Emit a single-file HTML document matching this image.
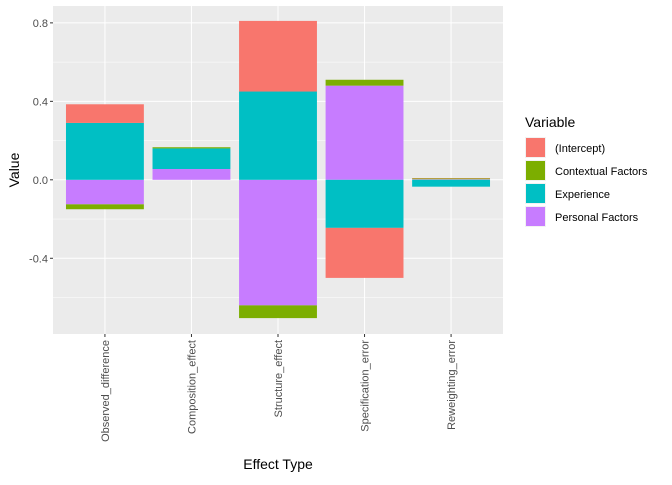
<!DOCTYPE html>
<html><head><meta charset="utf-8"><style>
body{margin:0;background:#fff;font-family:"Liberation Sans",Arial,sans-serif}
</style></head><body>
<svg id="c" width="672" height="480" xmlns="http://www.w3.org/2000/svg"></svg>
<script>
const categories=["Observed_difference","Composition_effect","Structure_effect","Specification_error","Reweighting_error"];
const variables=["(Intercept)","Contextual Factors","Experience","Personal Factors"];
const colors=["#F8766D","#7CAE00","#00BFC4","#C77CFF"];
const intercept=[0.095,0,0.36,-0.255,0.002];
const contextual=[-0.025,0.006,-0.065,0.03,0.004];
const experience=[0.29,0.105,0.45,-0.245,-0.035];
const personal=[-0.125,0.055,-0.64,0.48,0.003];
const yTicks=[-0.4,0.0,0.4,0.8];
const series=[intercept,contextual,experience,personal];

const svg=document.getElementById('c');
const NS="http://www.w3.org/2000/svg";
const L=53,R=503,T=6,B=334,yMin=-0.786,yMax=0.886;
const xs=i=>L+(i+1-0.4)*(R-L)/5.2;
const bw=0.9*(R-L)/5.2;
const ys=v=>T+(yMax-v)/(yMax-yMin)*(B-T);
function el(t,a,p){const e=document.createElementNS(NS,t);for(const k in a)e.setAttribute(k,a[k]);(p||svg).appendChild(e);return e;}
const bg=el('rect',{x:L,y:T,width:R-L,height:B-T,fill:'#EBEBEB'});


// minor grid
for(let i=0;i<yTicks.length-1;i++){const v=(yTicks[i]+yTicks[i+1])/2;el('line',{x1:L,x2:R,y1:ys(v),y2:ys(v),stroke:'#fff','stroke-width':0.5});}
[yMin+0.01, -0.6].forEach(v=>{});
el('line',{x1:L,x2:R,y1:ys(-0.6),y2:ys(-0.6),stroke:'#fff','stroke-width':0.5});
yTicks.forEach(v=>{
 el('line',{x1:L,x2:R,y1:ys(v),y2:ys(v),stroke:'#fff','stroke-width':1});
 el('line',{x1:L-3,x2:L,y1:ys(v),y2:ys(v),stroke:'#333','stroke-width':1});
 const t=el('text',{x:L-5,y:ys(v)+4,'text-anchor':'end','font-size':11,fill:'#4D4D4D'});
 t.textContent=v.toFixed(1);
 
 
});
categories.forEach((c,i)=>{
 el('line',{x1:xs(i),x2:xs(i),y1:T,y2:B,stroke:'#fff','stroke-width':1});
 el('line',{x1:xs(i),x2:xs(i),y1:B,y2:B+3,stroke:'#333','stroke-width':1});
});
categories.forEach((c,i)=>{
 let pos=0,neg=0;
 for(let s=series.length-1;s>=0;s--){
  const v=series[s][i];if(v===0)continue;
  let y0,y1;
  if(v>0){y0=pos;y1=pos+v;pos=y1;}else{y0=neg;y1=neg+v;neg=y1;}
  const r=el('rect',{x:xs(i)-bw/2,y:Math.min(ys(y0),ys(y1)),width:bw,height:Math.abs(ys(y1)-ys(y0)),fill:colors[s]});
  
  
 }
 const t=el('text',{transform:`translate(${xs(i)+4},${B+6}) rotate(-90)`,'text-anchor':'end','font-size':11,fill:'#4D4D4D'});
 t.textContent=c;
 
 
});
const xt=el('text',{x:(L+R)/2,y:469,'text-anchor':'middle','font-size':14,fill:'#000'});xt.textContent='Effect Type';


const yt=el('text',{transform:`translate(19,${(T+B)/2}) rotate(-90)`,'text-anchor':'middle','font-size':14,fill:'#000'});yt.textContent='Value';


const lt=el('text',{x:525,y:127,'font-size':14,fill:'#000'});lt.textContent='Variable';


variables.forEach((v,i)=>{
 const y=137+i*23;
 const g=el('g',{});
 
 
 el('rect',{x:525,y:y,width:21,height:21,fill:'#F2F2F2'},g);
 el('rect',{x:526,y:y+1,width:19,height:19,fill:colors[i]},g);
 const t=el('text',{x:555,y:y+15,'font-size':11,fill:'#000'},g);t.textContent=v;
});
</script>
</body></html>
